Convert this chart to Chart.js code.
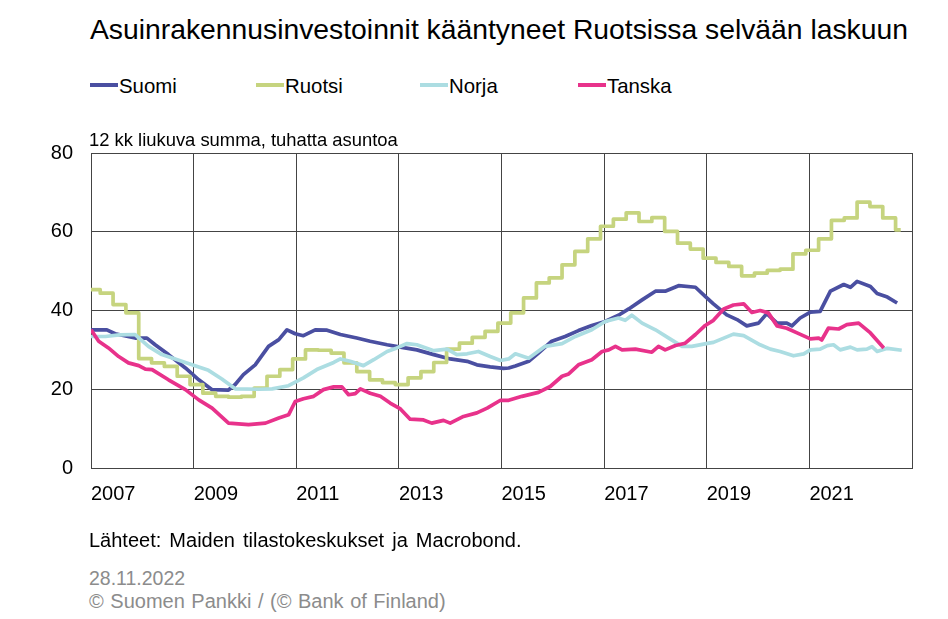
<!DOCTYPE html>
<html>
<head>
<meta charset="utf-8">
<script src="https://cdn.jsdelivr.net/npm/chart.js@4/dist/chart.umd.min.js"></script>
<style>
  body { margin: 0; background: #fff; width: 948px; height: 619px; position: relative; overflow: hidden; font-family: "Liberation Sans", Arial, sans-serif; }
  #chart { position: absolute; left: 0; top: 120px; }
  .txt { position: absolute; white-space: pre; color: #000; z-index: 2; }
  #title { left: 90px; top: 15px; font-size: 28.3px; line-height: 28px; }
  #sub { left: 89px; top: 131px; font-size: 18.4px; line-height: 18px; }
  #source { left: 89px; top: 530px; font-size: 20px; line-height: 20px; word-spacing: 2.5px; }
  #date { left: 89px; top: 569px; font-size: 19.5px; line-height: 19px; color: #8c8c8c; }
  #copy { left: 89px; top: 591px; font-size: 20px; line-height: 20px; color: #8c8c8c; word-spacing: 1px; }
  .legend { position: absolute; top: 76px; font-size: 20.4px; line-height: 20px; white-space: pre; z-index: 2; }
  .legend i { position: absolute; left: -29px; top: 7px; width: 28px; height: 4px; }
</style>
</head>
<body>
<canvas id="chart" width="948" height="410"></canvas>
<div class="txt" id="title">Asuinrakennusinvestoinnit kääntyneet Ruotsissa selvään laskuun</div>
<div id="legendBox"></div>
<div class="txt" id="sub">12 kk liukuva summa, tuhatta asuntoa</div>
<div class="txt" id="source">Lähteet: Maiden tilastokeskukset ja Macrobond.</div>
<div class="txt" id="date">28.11.2022</div>
<div class="txt" id="copy">© Suomen Pankki / (© Bank of Finland)</div>
<script>
// Year ticks on the x axis (last one is the right edge, unlabeled)
const yearTicks = [2007, 2009, 2011, 2013, 2015, 2017, 2019, 2021, 2023];

// Suomi
const suomiX = [2007.0, 2007.31, 2007.47, 2007.86, 2008.09, 2008.25, 2008.51, 2008.84, 2009.10, 2009.36, 2009.68, 2009.81, 2009.97, 2010.2, 2010.46, 2010.66, 2010.82, 2010.98, 2011.14, 2011.37, 2011.6, 2011.86, 2012.18, 2012.44, 2012.77, 2013.03, 2013.35, 2013.68, 2014.0, 2014.33, 2014.52, 2014.78, 2015.04, 2015.14, 2015.27, 2015.53, 2015.72, 2015.98, 2016.24, 2016.5, 2016.76, 2017.02, 2017.28, 2017.48, 2017.74, 2018.0, 2018.19, 2018.45, 2018.78, 2018.97, 2019.13, 2019.39, 2019.59, 2019.78, 2020.01, 2020.17, 2020.37, 2020.56, 2020.66, 2020.82, 2021.02, 2021.21, 2021.41, 2021.67, 2021.8, 2021.93, 2022.19, 2022.32, 2022.52, 2022.71];
const suomiY = [35.1, 35.1, 34.1, 33.0, 33.0, 31.3, 28.8, 25.4, 22.4, 19.9, 19.8, 21.2, 23.7, 26.2, 30.9, 32.6, 35.1, 34.1, 33.6, 35.1, 35.0, 33.9, 33.0, 32.2, 31.3, 30.7, 30.0, 28.8, 27.7, 27.1, 26.2, 25.7, 25.3, 25.4, 25.9, 27.1, 29.2, 32.2, 33.4, 34.9, 36.2, 37.2, 38.8, 40.4, 42.7, 44.9, 44.9, 46.3, 45.9, 43.6, 41.7, 38.9, 37.7, 36.1, 36.8, 39.2, 36.8, 36.8, 36.1, 38.1, 39.6, 39.8, 44.9, 46.6, 45.9, 47.4, 46.1, 44.3, 43.4, 41.9];

// Ruotsi (quarterly steps)
const ruotsiX = [2007.0, 2007.18, 2007.43, 2007.68, 2007.93, 2008.18, 2008.43, 2008.68, 2008.93, 2009.18, 2009.43, 2009.68, 2009.93, 2010.18, 2010.43, 2010.68, 2010.93, 2011.18, 2011.43, 2011.68, 2011.93, 2012.18, 2012.43, 2012.68, 2012.93, 2013.18, 2013.43, 2013.68, 2013.93, 2014.18, 2014.43, 2014.68, 2014.93, 2015.18, 2015.43, 2015.68, 2015.93, 2016.18, 2016.43, 2016.68, 2016.93, 2017.18, 2017.43, 2017.68, 2017.93, 2018.18, 2018.43, 2018.68, 2018.93, 2019.18, 2019.43, 2019.68, 2019.93, 2020.18, 2020.43, 2020.68, 2020.93, 2021.18, 2021.43, 2021.68, 2021.93, 2022.18, 2022.43, 2022.68, 2022.78];
const ruotsiY = [45.3, 44.4, 41.5, 39.4, 27.8, 26.7, 25.8, 23.3, 21.2, 19.0, 18.2, 18.0, 18.2, 20.3, 23.3, 25.0, 27.7, 30.0, 29.9, 29.2, 26.7, 24.5, 22.4, 21.7, 21.2, 22.9, 24.5, 26.8, 30.2, 31.7, 33.2, 34.7, 36.8, 39.4, 43.2, 47.0, 48.3, 51.6, 55.0, 58.2, 61.4, 63.2, 64.8, 62.6, 63.6, 60.1, 57.1, 55.6, 53.3, 52.2, 51.2, 48.8, 49.5, 50.2, 50.5, 54.4, 55.3, 58.2, 62.9, 63.5, 67.5, 66.4, 63.5, 60.5, 60.5];

// Norja
const norjaX = [2007.0, 2007.28, 2007.55, 2007.86, 2008.12, 2008.38, 2008.64, 2008.97, 2009.29, 2009.55, 2009.81, 2010.27, 2010.53, 2010.85, 2011.14, 2011.4, 2011.73, 2011.86, 2012.05, 2012.31, 2012.51, 2012.77, 2012.96, 2013.16, 2013.35, 2013.68, 2013.94, 2014.13, 2014.33, 2014.55, 2014.78, 2014.98, 2015.14, 2015.27, 2015.53, 2015.85, 2016.18, 2016.44, 2016.76, 2017.02, 2017.28, 2017.41, 2017.54, 2017.74, 2018.0, 2018.26, 2018.52, 2018.71, 2019.04, 2019.13, 2019.52, 2019.72, 2020.04, 2020.24, 2020.43, 2020.69, 2020.89, 2021.02, 2021.21, 2021.35, 2021.47, 2021.6, 2021.8, 2021.93, 2022.12, 2022.22, 2022.32, 2022.52, 2022.8];
const norjaY = [33.4, 33.4, 33.8, 33.9, 30.9, 28.8, 27.7, 26.2, 24.8, 22.6, 20.1, 20.0, 20.1, 20.9, 22.9, 25.0, 26.8, 27.7, 27.1, 26.0, 27.5, 29.6, 30.5, 31.6, 31.3, 29.8, 30.2, 28.8, 29.0, 29.6, 28.3, 27.3, 27.7, 29.0, 27.9, 30.9, 31.6, 33.4, 35.1, 37.2, 38.1, 37.5, 38.8, 36.8, 35.1, 33.0, 30.9, 30.9, 31.7, 31.9, 34.0, 33.6, 31.3, 30.2, 29.6, 28.5, 29.0, 30.0, 30.2, 31.1, 31.3, 30.0, 30.7, 30.0, 30.2, 30.8, 29.6, 30.4, 29.9];

// Tanska
const tanskaX = [2007.0, 2007.15, 2007.34, 2007.54, 2007.73, 2007.93, 2008.06, 2008.19, 2008.51, 2008.84, 2009.1, 2009.36, 2009.68, 2010.07, 2010.4, 2010.66, 2010.85, 2010.98, 2011.14, 2011.34, 2011.53, 2011.73, 2011.89, 2012.02, 2012.15, 2012.25, 2012.44, 2012.64, 2012.83, 2013.03, 2013.22, 2013.48, 2013.64, 2013.87, 2014.0, 2014.26, 2014.52, 2014.72, 2014.98, 2015.14, 2015.4, 2015.72, 2015.95, 2016.18, 2016.31, 2016.5, 2016.76, 2016.96, 2017.09, 2017.22, 2017.35, 2017.61, 2017.93, 2018.06, 2018.19, 2018.39, 2018.58, 2018.78, 2018.97, 2019.13, 2019.33, 2019.52, 2019.72, 2019.88, 2020.04, 2020.2, 2020.37, 2020.56, 2020.76, 2021.02, 2021.18, 2021.24, 2021.37, 2021.57, 2021.73, 2021.96, 2022.19, 2022.45];
const tanskaY = [35.1, 32.2, 30.5, 28.3, 26.7, 26.0, 25.1, 25.0, 22.4, 19.9, 17.3, 15.2, 11.4, 11.0, 11.4, 12.7, 13.5, 16.9, 17.6, 18.2, 19.9, 20.6, 20.6, 18.6, 18.9, 20.1, 19.0, 18.2, 16.5, 15.0, 12.4, 12.2, 11.4, 12.1, 11.4, 13.1, 14.0, 15.2, 17.2, 17.2, 18.2, 19.2, 20.7, 23.3, 23.9, 26.2, 27.5, 29.6, 30.0, 30.9, 30.0, 30.2, 29.4, 30.9, 30.0, 31.1, 31.7, 33.9, 36.2, 37.5, 40.4, 41.4, 41.7, 39.5, 40.0, 39.4, 36.1, 35.5, 34.3, 32.8, 33.0, 32.5, 35.5, 35.3, 36.4, 36.8, 34.3, 30.5];

const series = [
  { label: 'Suomi', xs: suomiX, ys: suomiY, color: '#4a4fa1', left: 119 },
  { label: 'Ruotsi', xs: ruotsiX, ys: ruotsiY, color: '#c6d47f', left: 285, stepped: true },
  { label: 'Norja', xs: norjaX, ys: norjaY, color: '#acdde2', left: 449 },
  { label: 'Tanska', xs: tanskaX, ys: tanskaY, color: '#e8328b', left: 607 }
];

const legendBox = document.getElementById('legendBox');
legendBox.innerHTML = series.map(s =>
  `<div class="legend" style="left:${s.left}px"><i style="background:${s.color}"></i>${s.label}</div>`
).join('');

const tickFont = { family: '"Liberation Sans", Arial, sans-serif', size: 20 };
const gridColor = '#444';

new Chart(document.getElementById('chart'), {
  type: 'line',
  data: {
    datasets: series.map((s, i) => ({
      label: s.label,
      data: s.xs.map((x, j) => ({ x, y: s.ys[j] })),
      borderColor: s.color,
      backgroundColor: s.color,
      borderWidth: 3.7,
      borderJoinStyle: 'round',
      pointRadius: 0,
      tension: 0,
      stepped: s.stepped || false,
      order: series.length - i
    }))
  },
  options: {
    responsive: false,
    animation: false,
    layout: { padding: { top: 33, right: 36, bottom: 0, left: 0 } },
    plugins: { legend: { display: false }, tooltip: { enabled: false } },
    scales: {
      x: {
        type: 'linear',
        min: 2007,
        max: 2023,
        afterBuildTicks: scale => { scale.ticks = yearTicks.map(v => ({ value: v })); },
        afterFit: scale => { scale.height = 62; },
        ticks: {
          align: 'start',
          autoSkip: false,
          maxRotation: 0,
          padding: 14,
          color: '#000',
          font: tickFont,
          callback: v => (v < 2023 ? String(v) : '')
        },
        grid: { color: gridColor, lineWidth: 1, drawTicks: false },
        border: { color: gridColor }
      },
      y: {
        min: 0,
        max: 80,
        afterFit: scale => { scale.width = 91; },
        ticks: { stepSize: 20, padding: 18, color: '#000', font: tickFont },
        grid: { color: gridColor, lineWidth: 1, drawTicks: false },
        border: { color: gridColor }
      }
    }
  }
});
</script>
</body>
</html>
